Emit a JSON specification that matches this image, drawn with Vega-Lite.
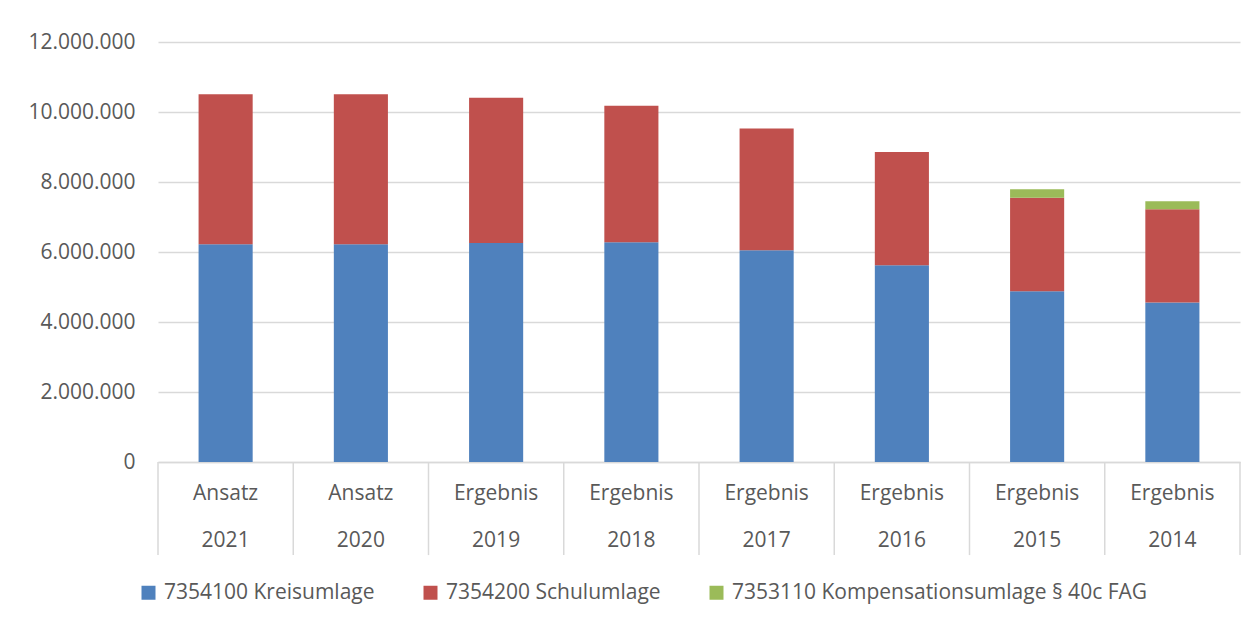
{
  "$schema": "https://vega.github.io/schema/vega-lite/v6.json",
  "autosize": {"type": "none"},
  "width": 1082,
  "height": 420,
  "padding": {"left": 158, "top": 42, "right": 17, "bottom": 160},
  "background": "white",
  "config": {
    "locale": {"number": {"decimal": ",", "thousands": ".", "grouping": [3], "currency": ["", " €"]}},
    "view": {"stroke": null},
    "font": "Open Sans",
    "axis": {"labelFont": "Open Sans", "labelColor": "#595959", "labelFontSize": 21}
  },
  "datasets": {
    "umlagen": [
      {"kat": "Ansatz|2021", "posten": "7354100 Kreisumlage", "ord": 1, "wert": 6220000},
      {"kat": "Ansatz|2021", "posten": "7354200 Schulumlage", "ord": 2, "wert": 4290000},
      {"kat": "Ansatz|2020", "posten": "7354100 Kreisumlage", "ord": 1, "wert": 6220000},
      {"kat": "Ansatz|2020", "posten": "7354200 Schulumlage", "ord": 2, "wert": 4290000},
      {"kat": "Ergebnis|2019", "posten": "7354100 Kreisumlage", "ord": 1, "wert": 6260000},
      {"kat": "Ergebnis|2019", "posten": "7354200 Schulumlage", "ord": 2, "wert": 4150000},
      {"kat": "Ergebnis|2018", "posten": "7354100 Kreisumlage", "ord": 1, "wert": 6280000},
      {"kat": "Ergebnis|2018", "posten": "7354200 Schulumlage", "ord": 2, "wert": 3900000},
      {"kat": "Ergebnis|2017", "posten": "7354100 Kreisumlage", "ord": 1, "wert": 6050000},
      {"kat": "Ergebnis|2017", "posten": "7354200 Schulumlage", "ord": 2, "wert": 3480000},
      {"kat": "Ergebnis|2016", "posten": "7354100 Kreisumlage", "ord": 1, "wert": 5620000},
      {"kat": "Ergebnis|2016", "posten": "7354200 Schulumlage", "ord": 2, "wert": 3240000},
      {"kat": "Ergebnis|2015", "posten": "7354100 Kreisumlage", "ord": 1, "wert": 4880000},
      {"kat": "Ergebnis|2015", "posten": "7354200 Schulumlage", "ord": 2, "wert": 2670000},
      {"kat": "Ergebnis|2015", "posten": "7353110 Kompensationsumlage § 40c FAG", "ord": 3, "wert": 240000},
      {"kat": "Ergebnis|2014", "posten": "7354100 Kreisumlage", "ord": 1, "wert": 4560000},
      {"kat": "Ergebnis|2014", "posten": "7354200 Schulumlage", "ord": 2, "wert": 2660000},
      {"kat": "Ergebnis|2014", "posten": "7353110 Kompensationsumlage § 40c FAG", "ord": 3, "wert": 230000}
    ],
    "trenner": [
      {"kat": "Ansatz|2021", "oben": 0, "unten": -2660000},
      {"kat": "Ansatz|2020", "oben": 0, "unten": -2660000},
      {"kat": "Ergebnis|2019", "oben": 0, "unten": -2660000},
      {"kat": "Ergebnis|2018", "oben": 0, "unten": -2660000},
      {"kat": "Ergebnis|2017", "oben": 0, "unten": -2660000},
      {"kat": "Ergebnis|2016", "oben": 0, "unten": -2660000},
      {"kat": "Ergebnis|2015", "oben": 0, "unten": -2660000},
      {"kat": "Ergebnis|2014", "oben": 0, "unten": -2660000}
    ],
    "trennerEnde": [
      {"kat": "Ergebnis|2014", "oben": 0, "unten": -2660000}
    ]
  },
  "layer": [
    {
      "data": {"name": "umlagen"},
      "mark": {"type": "bar"},
      "encoding": {
        "x": {
          "field": "kat",
          "type": "nominal",
          "sort": null,
          "scale": {"paddingInner": 0.6, "paddingOuter": 0.3},
          "axis": {
            "title": null,
            "labelAngle": 0,
            "labelExpr": "split(datum.label, '|')",
            "labelLineHeight": 47,
            "labelPadding": 20,
            "labelBaseline": "top",
            "ticks": false,
            "domainColor": "#d9d9d9",
            "domainWidth": 1.5
          }
        },
        "y": {
          "field": "wert",
          "type": "quantitative",
          "stack": "zero",
          "scale": {"domain": [0, 12000000]},
          "axis": {
            "title": null,
            "values": [0, 2000000, 4000000, 6000000, 8000000, 10000000, 12000000],
            "format": ",d",
            "labelOverlap": false,
            "domain": false,
            "ticks": false,
            "labelPadding": 23,
            "gridColor": "#d9d9d9",
            "gridWidth": 1.5
          }
        },
        "color": {
          "field": "posten",
          "type": "nominal",
          "scale": {
            "domain": ["7354100 Kreisumlage", "7354200 Schulumlage", "7353110 Kompensationsumlage § 40c FAG"],
            "range": ["#4F81BD", "#C0504D", "#9BBB59"]
          },
          "legend": {
            "title": null,
            "orient": "none",
            "direction": "horizontal",
            "legendX": -20,
            "legendY": 540,
            "symbolType": "square",
            "symbolSize": 196,
            "symbolStrokeWidth": 0,
            "labelFont": "Open Sans",
            "labelFontSize": 21,
            "labelColor": "#595959",
            "labelOffset": 5,
            "columnPadding": 45,
            "labelLimit": 600
          }
        },
        "order": {"field": "ord", "type": "quantitative"}
      }
    },
    {
      "data": {"name": "trenner"},
      "mark": {"type": "rule", "color": "#d9d9d9", "strokeWidth": 1.5},
      "encoding": {
        "x": {"field": "kat", "type": "nominal", "sort": null, "bandPosition": -0.75},
        "y": {"field": "oben", "type": "quantitative"},
        "y2": {"field": "unten"}
      }
    },
    {
      "data": {"name": "trennerEnde"},
      "mark": {"type": "rule", "color": "#d9d9d9", "strokeWidth": 1.5},
      "encoding": {
        "x": {"field": "kat", "type": "nominal", "sort": null, "bandPosition": 1.75},
        "y": {"field": "oben", "type": "quantitative"},
        "y2": {"field": "unten"}
      }
    }
  ]
}
